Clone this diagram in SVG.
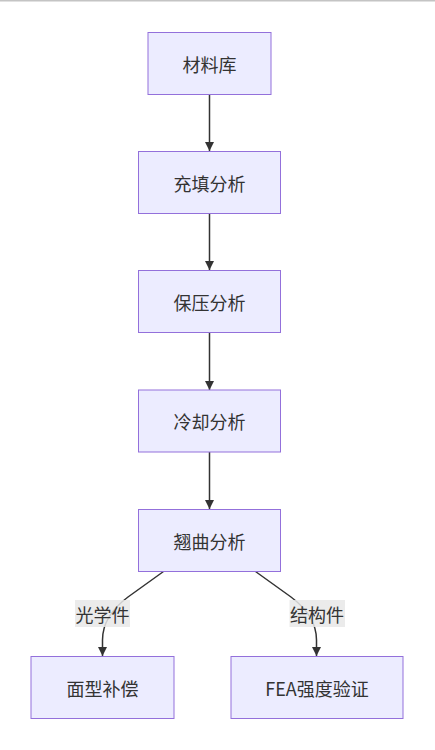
<svg xmlns="http://www.w3.org/2000/svg" width="435" height="750" viewBox="0 0 435 750">
<style>
.node rect{fill:#ECECFF;stroke:#9370DB;stroke-width:1}
.node text,.lbl text{font-family:"Noto Sans CJK SC","Noto Sans",sans-serif;font-size:18px;fill:#333;text-anchor:middle;dominant-baseline:central}
.edge{fill:none;stroke:#333;stroke-width:1.5}
.lbl rect{fill:#e8e8e8;opacity:0.85}
</style>
<defs>
<marker id="arr" viewBox="0 0 10 10" refX="10" refY="5" markerUnits="userSpaceOnUse" markerWidth="9" markerHeight="9" orient="auto">
<path d="M0,0 L10,5 L0,10 z" fill="#333"/>
</marker>
</defs>
<line x1="0" y1="0.8" x2="435" y2="0.8" stroke="#c4c4c4" stroke-width="1.6"/>
<g id="connectors">
<path class="edge" d="M209.5,94 L209.5,151" marker-end="url(#arr)"/>
<path class="edge" d="M209.5,213 L209.5,270" marker-end="url(#arr)"/>
<path class="edge" d="M209.5,332 L209.5,390" marker-end="url(#arr)"/>
<path class="edge" d="M209.5,452 L209.5,509" marker-end="url(#arr)"/>
<path class="edge" d="M163.5,571.5 L128,597 Q102.5,616 102.5,640 L102.5,656" marker-end="url(#arr)"/>
<path class="edge" d="M255.5,571.5 L291,597 Q316.5,616 316.5,640 L316.5,656" marker-end="url(#arr)"/>
<g class="lbl" id="label-optical"><rect x="75" y="600" width="55" height="27"/><text x="102.5" y="613.5">光学件</text></g>
<g class="lbl" id="label-struct"><rect x="289.5" y="600" width="55.5" height="27"/><text x="317" y="613.5">结构件</text></g>
</g>
<g class="node" id="n-material"><rect x="148" y="32.5" width="123" height="62"/><text x="209.5" y="63.5">材料库</text></g>
<g class="node" id="n-fill"><rect x="138.5" y="151.5" width="142" height="62"/><text x="209.5" y="182.5">充填分析</text></g>
<g class="node" id="n-pack"><rect x="138.5" y="270.5" width="142" height="62"/><text x="209.5" y="301.5">保压分析</text></g>
<g class="node" id="n-cool"><rect x="138.5" y="390" width="142" height="62"/><text x="209.5" y="421">冷却分析</text></g>
<g class="node" id="n-warp"><rect x="138.5" y="509.5" width="142" height="62"/><text x="209.5" y="540.5">翘曲分析</text></g>
<g class="node" id="n-comp"><rect x="31" y="656.5" width="143" height="62"/><text x="102.5" y="687.5">面型补偿</text></g>
<g class="node" id="n-fea"><rect x="231" y="656.5" width="172" height="62"/><text x="317" y="687.5">FEA强度验证</text></g>
</svg>
